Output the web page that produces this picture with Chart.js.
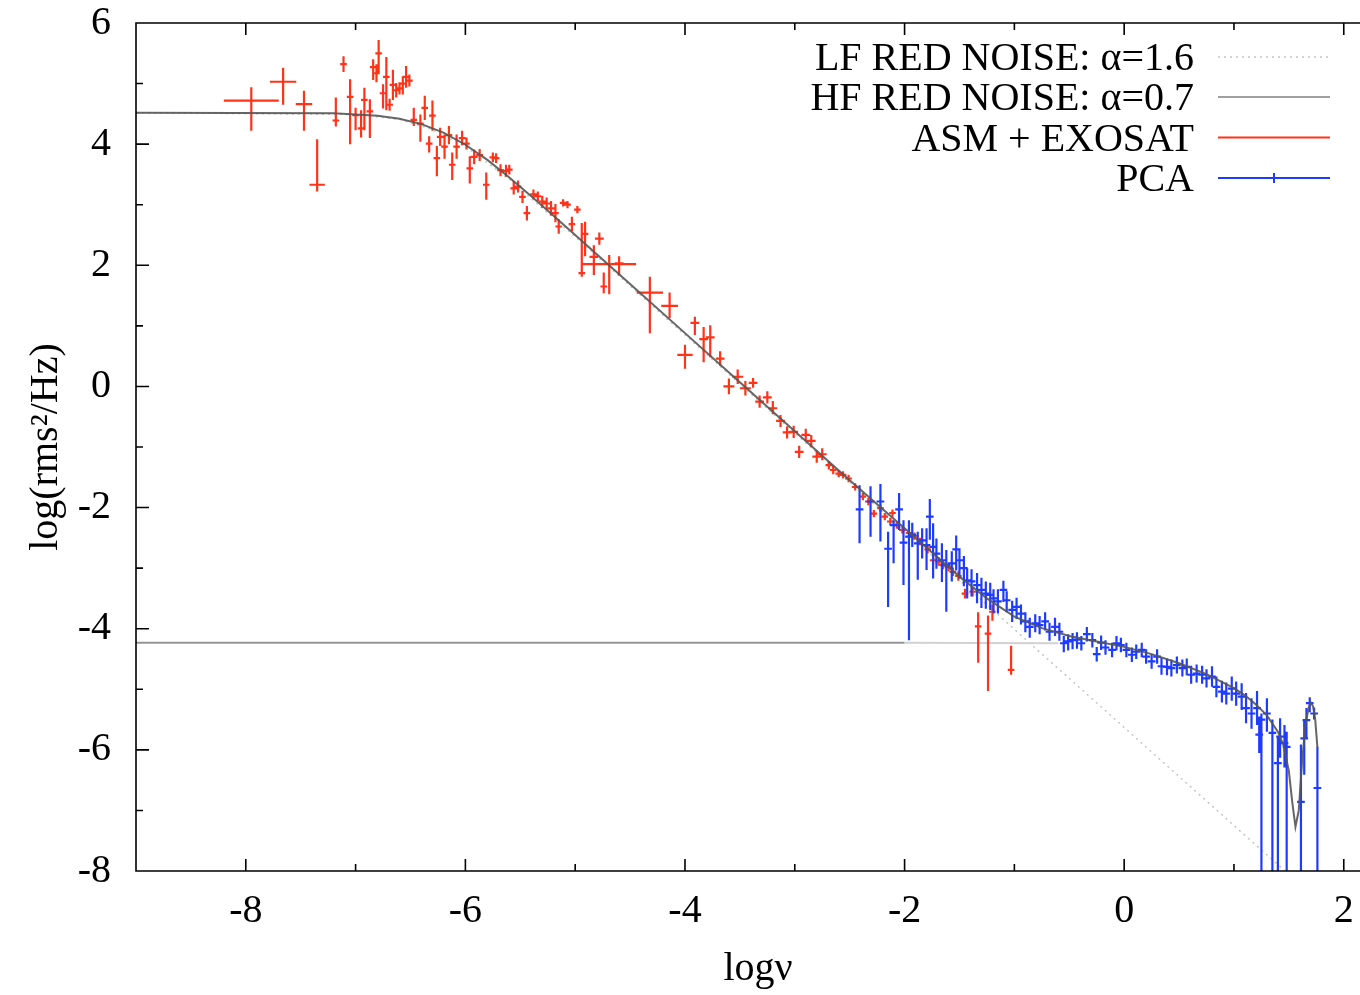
<!DOCTYPE html>
<html>
<head>
<meta charset="utf-8">
<script src="https://cdn.jsdelivr.net/npm/chart.js@4.4.1/dist/chart.umd.min.js"></script>
<style>
html,body{margin:0;padding:0;background:#fff;overflow:hidden;}
canvas{display:block;}
</style>
</head>
<body>
<canvas id="c" width="1380" height="995"></canvas>
<script>
// ---------- axis ----------
const xTickValues = [-8, -6, -4, -2, 0, 2];
const yTickValues = [-8, -6, -4, -2, 0, 2, 4, 6];

// ---------- ASM + EXOSAT (red) ----------
const asmX = [-7.95,-7.66,-7.47,-7.35,-7.18,-7.11,-7.05,-7.00,-6.95,-6.92,-6.87,-6.84,-6.81,-6.79,-6.75,-6.72,-6.69,-6.66,-6.63,-6.60,
  -6.57,-6.54,-6.51,-6.47,-6.41,-6.37,-6.33,-6.30,-6.26,-6.23,-6.19,-6.15,-6.12,-6.08,-6.03,-5.99,-5.96,-5.92,-5.87,-5.81,
  -5.75,-5.72,-5.68,-5.63,-5.60,-5.56,-5.52,-5.48,-5.44,-5.38,-5.34,-5.30,-5.26,-5.22,-5.18,-5.15,-5.11,-5.07,-5.03,-4.98,
  -4.94,-4.91,-4.83,-4.78,-4.74,-4.69,-4.60,-4.32,-4.14,-4.00,-3.91,-3.83,-3.77,-3.68,-3.60,-3.52,-3.45,-3.38,-3.32,-3.25,
  -3.20,-3.13,-3.07,-3.01,-2.96,-2.90,-2.85,-2.80,-2.75,-2.69,-2.65,-2.60,-2.56,-2.51,-2.45,-2.38,-2.33,-2.28,-2.22,-2.18,
  -2.13,-2.11,-2.07,-2.02,-1.96,-1.91,-1.86,-1.79,-1.74,-1.69,-1.65,-1.60,-1.56,-1.51,-1.45,-1.38,-1.33,-1.24,-1.20,-1.03];
const asmY = [4.72,5.03,4.66,3.33,4.39,5.32,4.78,4.48,4.26,4.73,4.54,5.27,5.17,5.50,4.84,5.11,4.65,4.98,4.89,4.92,
  5.00,5.11,5.05,4.40,4.34,4.60,4.01,4.47,3.77,4.12,3.96,4.15,3.66,3.96,4.10,4.01,3.60,3.79,3.82,3.33,
  3.78,3.77,3.57,3.56,3.58,3.27,3.30,3.13,2.86,3.17,3.14,3.05,3.02,2.94,2.86,2.64,3.03,3.00,2.68,2.92,
  1.87,2.52,2.14,2.44,1.65,2.02,2.03,1.55,1.33,0.52,1.05,0.78,0.81,0.46,0.00,0.16,-0.03,0.06,-0.25,-0.18,
  -0.36,-0.57,-0.76,-0.75,-1.08,-0.80,-0.90,-1.16,-1.12,-1.30,-1.38,-1.44,-1.46,-1.52,-1.66,-1.82,-1.90,-2.10,-2.01,-2.15,
  -2.23,-2.09,-2.29,-2.37,-2.42,-2.47,-2.56,-2.69,-2.87,-2.89,-2.95,-2.98,-3.06,-3.13,-3.42,-3.39,-3.96,-4.08,-3.72,-4.68];
const asmXErr = [0.25,0.12,0.075,0.07,0.03,0.03,0.03,0.03,0.03,0.03,0.03,0.03,0.03,0.03,0.03,0.03,0.03,0.03,0.03,0.03,
  0.03,0.03,0.03,0.03,0.03,0.03,0.03,0.03,0.03,0.03,0.03,0.03,0.03,0.03,0.03,0.03,0.03,0.03,0.03,0.03,
  0.03,0.03,0.03,0.03,0.03,0.03,0.03,0.03,0.03,0.03,0.03,0.03,0.03,0.03,0.03,0.03,0.03,0.03,0.03,0.03,
  0.03,0.03,0.04,0.04,0.03,0.245,0.04,0.12,0.076,0.07,0.04,0.04,0.04,0.04,0.05,0.05,0.05,0.04,0.04,0.04,
  0.04,0.04,0.04,0.04,0.04,0.04,0.04,0.04,0.04,0.03,0.03,0.03,0.03,0.03,0.03,0.03,0.03,0.03,0.03,0.03,
  0.03,0.03,0.03,0.03,0.03,0.03,0.03,0.03,0.03,0.03,0.03,0.03,0.03,0.03,0.03,0.03,0.03,0.03,0.03,0.03];
const asmErrDn = [0.50,0.38,0.44,0.11,0.10,0.13,0.78,0.25,0.15,0.50,0.44,0.21,0.15,0.33,0.25,0.55,0.10,0.25,0.12,0.10,
  0.18,0.18,0.10,0.10,0.30,0.20,0.15,0.25,0.30,0.15,0.20,0.15,0.25,0.20,0.12,0.10,0.25,0.12,0.10,0.25,
  0.08,0.08,0.10,0.10,0.08,0.10,0.10,0.10,0.12,0.08,0.08,0.10,0.10,0.12,0.15,0.12,0.06,0.06,0.12,0.06,
  0.06,0.37,0.30,0.10,0.11,0.50,0.20,0.67,0.20,0.23,0.20,0.38,0.33,0.12,0.13,0.12,0.12,0.08,0.10,0.10,
  0.10,0.10,0.10,0.10,0.10,0.10,0.10,0.10,0.10,0.07,0.07,0.06,0.06,0.06,0.06,0.06,0.06,0.06,0.06,0.06,
  0.06,0.06,0.06,0.06,0.06,0.06,0.06,0.07,0.07,0.07,0.07,0.07,0.07,0.08,0.08,0.08,0.60,0.95,0.15,0.08];
const asmErrUp = [0.22,0.23,0.22,0.75,0.38,0.13,0.29,0.12,0.30,0.20,0.20,0.13,0.15,0.22,0.15,0.33,0.10,0.25,0.12,0.10,
  0.12,0.18,0.10,0.20,0.15,0.20,0.12,0.25,0.20,0.15,0.20,0.15,0.20,0.20,0.12,0.10,0.20,0.12,0.10,0.20,
  0.08,0.08,0.10,0.10,0.08,0.12,0.10,0.10,0.12,0.08,0.08,0.10,0.10,0.12,0.15,0.12,0.06,0.06,0.12,0.06,
  0.83,0.20,0.19,0.10,0.23,0.15,0.12,0.26,0.22,0.17,0.10,0.20,0.20,0.12,0.13,0.12,0.12,0.08,0.10,0.10,
  0.12,0.10,0.10,0.10,0.10,0.10,0.10,0.10,0.10,0.07,0.07,0.06,0.06,0.06,0.06,0.06,0.06,0.06,0.06,0.06,
  0.06,0.06,0.06,0.06,0.06,0.06,0.06,0.07,0.07,0.07,0.07,0.07,0.07,0.08,0.08,0.08,0.23,0.30,0.12,0.40];

// ---------- PCA (blue) ----------
const pcaX = [-2.41,-2.31,-2.22,-2.15,-2.10,-2.05,-2.01,-1.96,-1.93,-1.88,-1.84,-1.80,-1.77,-1.74,-1.71,-1.66,-1.62,-1.57,-1.53,-1.50,
  -1.46,-1.43,-1.39,-1.34,-1.30,-1.26,-1.22,-1.19,-1.15,-1.10,-1.07,-1.02,-0.98,-0.94,-0.90,-0.86,-0.81,-0.77,-0.72,-0.68,
  -0.63,-0.59,-0.55,-0.51,-0.47,-0.43,-0.39,-0.34,-0.29,-0.25,-0.21,-0.17,-0.11,-0.07,-0.03,0.02,0.07,0.11,0.16,0.20,
  0.25,0.30,0.34,0.39,0.43,0.48,0.53,0.57,0.61,0.66,0.71,0.75,0.80,0.84,0.89,0.93,0.98,1.02,1.07,1.11,
  1.16,1.21,1.23,1.25,1.30,1.35,1.40,1.42,1.46,1.48,1.61,1.64,1.66,1.69,1.73,1.76];
const pcaY = [-2.03,-1.90,-1.90,-2.68,-2.29,-2.03,-2.58,-2.48,-2.45,-2.59,-2.54,-2.62,-2.15,-2.65,-2.76,-2.87,-2.95,-2.92,-2.69,-2.87,
  -3.00,-3.20,-3.22,-3.28,-3.36,-3.42,-3.44,-3.50,-3.55,-3.36,-3.53,-3.69,-3.64,-3.75,-3.88,-3.97,-3.91,-3.94,-3.88,-4.05,
  -3.97,-4.05,-4.24,-4.21,-4.19,-4.18,-4.24,-4.09,-4.19,-4.42,-4.23,-4.31,-4.35,-4.24,-4.27,-4.35,-4.43,-4.38,-4.35,-4.46,
  -4.54,-4.46,-4.62,-4.63,-4.65,-4.60,-4.65,-4.63,-4.76,-4.74,-4.76,-4.82,-4.79,-4.96,-5.04,-5.07,-4.99,-5.07,-5.12,-5.31,
  -5.40,-5.31,-5.75,-5.50,-5.40,-5.72,-6.22,-5.78,-5.89,-5.95,-6.86,-5.81,-5.51,-5.23,-5.40,-6.63];
const pcaXErr = [0.035,0.035,0.035,0.035,0.035,0.035,0.035,0.035,0.035,0.035,0.035,0.035,0.035,0.035,0.035,0.035,0.035,0.035,0.035,0.035,
  0.035,0.035,0.035,0.035,0.035,0.035,0.035,0.035,0.035,0.035,0.035,0.035,0.035,0.035,0.035,0.035,0.035,0.035,0.035,0.035,
  0.035,0.035,0.035,0.035,0.035,0.035,0.035,0.035,0.035,0.035,0.035,0.035,0.035,0.035,0.035,0.035,0.035,0.035,0.035,0.035,
  0.035,0.035,0.035,0.035,0.035,0.035,0.035,0.035,0.035,0.035,0.035,0.035,0.035,0.035,0.035,0.035,0.035,0.035,0.035,0.035,
  0.035,0.035,0.035,0.035,0.035,0.035,0.035,0.035,0.035,0.035,0.035,0.035,0.035,0.035,0.035,0.035];
const pcaErrDn = [0.56,0.58,0.66,0.96,0.63,0.34,0.70,1.71,0.20,0.60,0.30,0.41,0.38,0.52,0.25,0.36,0.77,0.30,0.35,0.30,
  0.30,0.30,0.25,0.30,0.30,0.25,0.25,0.25,0.20,0.20,0.20,0.20,0.20,0.18,0.18,0.18,0.15,0.15,0.15,0.15,
  0.15,0.15,0.15,0.15,0.15,0.15,0.12,0.12,0.12,0.12,0.12,0.12,0.12,0.12,0.12,0.12,0.12,0.12,0.12,0.12,
  0.12,0.12,0.14,0.14,0.14,0.14,0.14,0.14,0.15,0.15,0.15,0.15,0.17,0.17,0.18,0.18,0.20,0.20,0.22,0.25,
  0.25,0.28,0.30,3.00,0.30,3.00,3.00,0.35,0.40,3.00,3.00,0.60,0.30,0.15,0.10,3.00];
const pcaErrUp = [0.40,0.25,0.29,0.28,0.08,0.27,0.37,0.27,0.20,0.19,0.20,0.28,0.29,0.39,0.25,0.28,0.25,0.20,0.23,0.20,
  0.20,0.20,0.20,0.20,0.20,0.20,0.20,0.15,0.20,0.15,0.15,0.15,0.15,0.15,0.15,0.15,0.15,0.15,0.15,0.15,
  0.15,0.15,0.12,0.12,0.12,0.12,0.12,0.12,0.12,0.12,0.12,0.12,0.12,0.12,0.12,0.12,0.12,0.12,0.12,0.12,
  0.12,0.12,0.14,0.14,0.14,0.14,0.14,0.14,0.15,0.15,0.15,0.15,0.17,0.17,0.18,0.18,0.20,0.20,0.22,0.25,
  0.25,0.28,0.30,0.10,0.25,0.22,0.45,0.30,0.30,0.25,0.95,0.30,0.20,0.10,0.10,0.68];

// ---------- model curves ----------
const lfX = [-9.0,-7.0,-6.6,-6.3,-6.0,-5.6,-5.0,-4.0,-3.0,-2.0,-1.0,0.0,1.0,1.46];
const lfY = [4.52,4.49,4.41,4.24,3.96,3.42,2.47,0.85,-0.77,-2.39,-4.01,-5.63,-7.25,-7.99];
const hfX = [-9.0,-2.0,-0.6];
const hfY = [-4.23,-4.23,-4.24];
const totX = [-9.0,-7.2,-7.0,-6.8,-6.6,-6.4,-6.2,-6.0,-5.8,-5.6,-5.4,-5.2,-5.0,-4.5,-4.0,-3.5,-3.0,-2.5,-2.0,-1.75,
  -1.5,-1.25,-1.0,-0.75,-0.5,-0.25,0.0,0.25,0.5,0.75,1.0,1.1,1.2,1.3,1.4,1.45,1.5,1.53,1.56,1.59,
  1.62,1.65,1.68,1.70,1.72,1.74,1.76];
const totY = [4.52,4.51,4.49,4.47,4.42,4.33,4.19,3.99,3.74,3.45,3.14,2.82,2.50,1.69,0.88,0.07,-0.74,-1.55,-2.34,-2.74,
  -3.14,-3.50,-3.80,-3.99,-4.12,-4.21,-4.30,-4.42,-4.57,-4.75,-4.98,-5.10,-5.25,-5.43,-5.70,-5.92,-6.35,-6.85,-7.27,-7.00,
  -6.20,-5.60,-5.30,-5.22,-5.28,-5.50,-5.96];

const labels = ['LF RED NOISE: \u03b1=1.6', 'HF RED NOISE: \u03b1=0.7', 'ASM + EXOSAT', 'PCA'];
const RED = '#ff3318';
const BLUE = '#1e3cff';
const FONT = '"Liberation Serif", "Times New Roman", serif';

const pts = (xs, ys) => xs.map((x, i) => ({x: x, y: ys[i]}));

const framePlugin = {
  id: 'frame',
  afterDraw(chart) {
    const {ctx, chartArea: a, scales: {x, y}} = chart;
    ctx.save();
    ctx.strokeStyle = '#000';
    ctx.lineWidth = 1.6;
    ctx.beginPath();
    ctx.rect(a.left, a.top, a.right - a.left, a.bottom - a.top);
    ctx.stroke();
    ctx.beginPath();
    for (let v = Math.ceil(x.min) + 1; v < x.max; v++) {
      const p = x.getPixelForValue(v);
      const L = (v % 2 === 0) ? 12 : 7;
      ctx.moveTo(p, a.bottom); ctx.lineTo(p, a.bottom - L);
      ctx.moveTo(p, a.top); ctx.lineTo(p, a.top + L);
    }
    for (let v = Math.ceil(y.min) + 1; v < y.max; v++) {
      const p = y.getPixelForValue(v);
      const L = (v % 2 === 0) ? 13 : 7;
      ctx.moveTo(a.left, p); ctx.lineTo(a.left + L, p);
      ctx.moveTo(a.right, p); ctx.lineTo(a.right - L, p);
    }
    ctx.stroke();
    ctx.restore();
  }
};

const errorBarPlugin = {
  id: 'errbars',
  afterDatasetDraw(chart, args) {
    const ds = chart.data.datasets[args.index];
    if (!ds.errX) return;
    const {ctx, chartArea: a, scales: {x, y}} = chart;
    ctx.save();
    ctx.beginPath();
    ctx.rect(a.left, a.top, a.right - a.left, a.bottom - a.top);
    ctx.clip();
    ctx.strokeStyle = ds.borderColor;
    ctx.lineWidth = 2.2;
    ctx.beginPath();
    ds.data.forEach((d, i) => {
      const px = x.getPixelForValue(d.x);
      const py = y.getPixelForValue(d.y);
      const x0 = x.getPixelForValue(d.x - ds.errX[i]);
      const x1 = x.getPixelForValue(d.x + ds.errX[i]);
      const y0 = y.getPixelForValue(d.y - ds.errDn[i]);
      const y1 = y.getPixelForValue(d.y + ds.errUp[i]);
      ctx.moveTo(px, y0); ctx.lineTo(px, y1);
      ctx.moveTo(x0, py); ctx.lineTo(x1, py);
    });
    ctx.stroke();
    ctx.restore();
  }
};

const legendPlugin = {
  id: 'gpLegend',
  afterDraw(chart) {
    const {ctx} = chart;
    const ds = chart.data.datasets;
    const rows = [57, 97, 137.5, 178];
    ctx.save();
    ctx.font = '40px ' + FONT;
    ctx.fillStyle = '#000';
    ctx.textAlign = 'right';
    ctx.textBaseline = 'alphabetic';
    for (let i = 0; i < 4; i++) {
      const yy = rows[i];
      ctx.fillText(ds[i].label, 1194, yy + 13);
      ctx.save();
      ctx.strokeStyle = ds[i].legendColor;
      ctx.lineWidth = ds[i].legendWidth;
      ctx.setLineDash(ds[i].borderDash || []);
      ctx.beginPath();
      ctx.moveTo(1218, yy); ctx.lineTo(1330, yy);
      if (i === 3) { ctx.moveTo(1274, yy - 5); ctx.lineTo(1274, yy + 5); }
      ctx.stroke();
      ctx.restore();
    }
    ctx.restore();
  }
};

new Chart(document.getElementById('c'), {
  type: 'scatter',
  data: {
    datasets: [
      {label: labels[0], data: pts(lfX, lfY), showLine: true, borderColor: '#c4c4c4', legendColor: '#c4c4c4', legendWidth: 1.5,
       borderWidth: 1.5, borderDash: [2, 4], pointRadius: 0, order: 5},
      {label: labels[1], data: pts(hfX, hfY), showLine: true, borderColor: '#959595', legendColor: '#a0a0a0', legendWidth: 2,
       borderWidth: 2, pointRadius: 0, order: 4,
       segment: {borderColor: c => (c.p0.parsed.x < -2.01 ? '#959595' : '#d2d2d2')}},
      {label: labels[2], data: pts(asmX, asmY), showLine: false, borderColor: RED, legendColor: RED, legendWidth: 2,
       pointRadius: 0, order: 3, errX: asmXErr, errDn: asmErrDn, errUp: asmErrUp},
      {label: labels[3], data: pts(pcaX, pcaY), showLine: false, borderColor: BLUE, legendColor: BLUE, legendWidth: 2,
       pointRadius: 0, order: 2, errX: pcaXErr, errDn: pcaErrDn, errUp: pcaErrUp},
      {label: '', data: pts(totX, totY), showLine: true, borderColor: 'rgba(85,85,85,0.9)', borderWidth: 2,
       pointRadius: 0, order: 1}
    ]
  },
  options: {
    responsive: false,
    animation: false,
    devicePixelRatio: 1,
    layout: {padding: {top: 23, right: 0, bottom: 0, left: 0}},
    plugins: {legend: {display: false}, tooltip: {enabled: false}},
    scales: {
      x: {
        type: 'linear', min: -9, max: 2.33,
        afterFit: s => { s.height = 124; s.paddingLeft = 0; s.paddingRight = 0; },
        grid: {display: false, drawTicks: false},
        border: {display: false},
        ticks: {
          stepSize: 1, autoSkip: false, includeBounds: false, maxRotation: 0,
          callback: v => (xTickValues.includes(v) ? String(v) : ''),
          font: {family: FONT, size: 40, lineHeight: 1}, color: '#000', padding: 20
        },
        title: {display: true, text: 'log\u03bd', font: {family: FONT, size: 40}, color: '#000', padding: {top: 0, bottom: 2}}
      },
      y: {
        type: 'linear', min: -8, max: 6,
        afterFit: s => { s.width = 136; s.paddingTop = 0; s.paddingBottom = 0; },
        grid: {display: false, drawTicks: false},
        border: {display: false},
        ticks: {
          stepSize: 1, autoSkip: false, includeBounds: false,
          callback: v => (yTickValues.includes(v) ? String(v) : ''),
          font: {family: FONT, size: 40, lineHeight: 1}, color: '#000', padding: 25
        },
        title: {display: true, text: 'log(rms\u00b2/Hz)', font: {family: FONT, size: 40}, color: '#000', padding: {top: 22, bottom: 0}}
      }
    }
  },
  plugins: [framePlugin, errorBarPlugin, legendPlugin]
});
</script>
</body>
</html>
